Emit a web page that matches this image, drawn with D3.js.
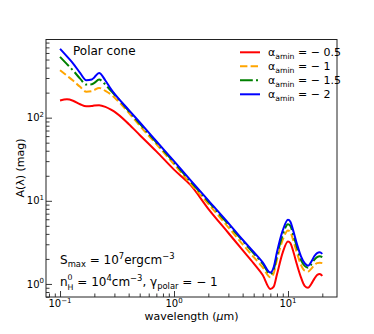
<!DOCTYPE html>
<html><head><meta charset="utf-8">
<script src="https://cdn.jsdelivr.net/npm/d3@7"></script>
<style>body{margin:0;background:#fff} text{font-family:"DejaVu Sans",sans-serif;fill:#000;white-space:pre}</style>
</head><body><svg id="c" width="374" height="334"></svg>
<script>
// ---- data ----
const wavelengths = [0.1,0.115,0.13,0.15,0.17,0.19,0.2,0.22,0.25,0.28,0.3,0.4,0.5,0.7,1,1.4,2,3,4,5,6,7,7.5,8,9,10,10.5,11,12,13,14,15,16,17,18,19,20];
const aminM05 = [161,166,160,145,137,138,140,141,135,125,118,84,62,39.3,23.7,15.4,8.0,4.1,2.55,1.77,1.28,0.87,0.93,1.3,2.4,3.23,3.1,2.6,1.7,1.2,0.95,0.90,1.0,1.15,1.28,1.32,1.25];
const aminM1  = [372,320,280,235,205,208,215,228,210,190,175,115,80,48,27.5,16,9.2,4.8,3.0,2.1,1.58,1.2,1.35,1.95,3.4,4.39,4.2,3.5,2.35,1.7,1.45,1.41,1.52,1.68,1.78,1.8,1.78];
const aminM15 = [538,440,370,295,250,252,262,287,250,210,190,121,85,50.5,29,17,9.8,5.2,3.3,2.33,1.75,1.32,1.5,2.2,3.9,5.24,5.0,4.1,2.75,1.95,1.65,1.57,1.72,1.95,2.1,2.15,2.1];
const aminM2  = [673,545,450,345,282,288,305,345,280,220,195,124,88,52,30,17.6,10.1,5.4,3.4,2.42,1.82,1.37,1.6,2.4,4.4,5.9,5.6,4.6,3.0,2.15,1.78,1.66,1.85,2.15,2.35,2.4,2.3];
const seriesNames = ["− 0.5","− 1","− 1.5","− 2"];
const xMajorTicks = [0.1,1,10];
const xTickExps = ["−1","0","1"];
const yMajorTicks = [1,10,100];
const yTickExps = ["0","1","2"];

const seriesValues = [aminM05, aminM1, aminM15, aminM2];
const colors = ["#ff0000","#ffa500","#008000","#0000ff"];
const dashes = [null,"7.4,3.2","12.8,3.2,2,3.2",null];

const svg = d3.select("#c");
const L=46,R=337,T=39.5,B=297;
const x = d3.scaleLog().domain([Math.pow(10,-1.123), Math.pow(10,1.43)]).range([L,R]);
const y = d3.scaleLog().domain([Math.pow(10,-0.157), Math.pow(10,2.94)]).range([B,T]);

// math text helper
function mathText(g, x0, yb, parts, size, anchor){
  const grp = g.append("g");
  let cx = 0;
  parts.forEach(p=>{
    const [t, mode] = p;
    if(mode==="bp"){
      const a = grp.append("text").attr("x",cx).attr("y",yb+size*0.3).style("font-size",(size*0.65)+"px").text(t[0]);
      const b = grp.append("text").attr("x",cx).attr("y",yb-size*0.48).style("font-size",(size*0.65)+"px").text(t[1]);
      cx += Math.max(a.node().getComputedTextLength(), b.node().getComputedTextLength());
    } else {
      const fs = mode ? size*0.7 : size;
      const dy = mode==="b" ? size*0.25 : (mode==="p" ? -size*0.42 : 0);
      const e = grp.append("text").attr("x",cx).attr("y",yb+dy).style("font-size",fs+"px").text(t);
      if(p[2]) e.style("font-style","italic");
      cx += e.node().getComputedTextLength();
    }
  });
  let sx = x0;
  if(anchor==="end") sx = x0 - cx;
  else if(anchor==="middle") sx = x0 - cx/2;
  grp.attr("transform",`translate(${sx},0)`);
  return cx;
}

// clip
svg.append("clipPath").attr("id","clip").append("rect").attr("x",L).attr("y",T).attr("width",R-L).attr("height",B-T);

// lines
const line = d3.line().x(d=>x(d[0])).y(d=>y(d[1])).curve(d3.curveMonotoneX);
seriesValues.forEach((vals,i)=>{
  const pts = wavelengths.map((w,j)=>[w,vals[j]]);
  svg.append("path").attr("d",line(pts)).attr("fill","none").attr("stroke",colors[i])
    .attr("stroke-width",2).attr("stroke-dasharray",dashes[i]).attr("clip-path","url(#clip)");
});

// axes ticks (inward)
const xMinor = x.ticks().filter(v=>!xMajorTicks.some(m=>Math.abs(m-v)<1e-9));
const yMinor = y.ticks().filter(v=>!yMajorTicks.some(m=>Math.abs(m-v)<1e-9));
const gx = svg.append("g").attr("transform",`translate(0,${B})`);
gx.call(d3.axisBottom(x).tickValues(xMajorTicks).tickSizeInner(-6).tickSizeOuter(0).tickFormat(""));
gx.call(g=>g.select(".domain").remove());
const gx2 = svg.append("g").attr("transform",`translate(0,${B})`);
gx2.call(d3.axisBottom(x).tickValues(xMinor).tickSizeInner(-3.5).tickSizeOuter(0).tickFormat(""));
gx2.call(g=>g.select(".domain").remove());
const gy = svg.append("g").attr("transform",`translate(${L},0)`);
gy.call(d3.axisLeft(y).tickValues(yMajorTicks).tickSizeInner(-6).tickSizeOuter(0).tickFormat(""));
gy.call(g=>g.select(".domain").remove());
const gy2 = svg.append("g").attr("transform",`translate(${L},0)`);
gy2.call(d3.axisLeft(y).tickValues(yMinor).tickSizeInner(-3.5).tickSizeOuter(0).tickFormat(""));
gy2.call(g=>g.select(".domain").remove());
svg.selectAll(".tick line").attr("stroke","#222").attr("stroke-width",0.9);

// tick labels
xMajorTicks.forEach((v,i)=>{
  mathText(svg, x(v), 307, [["10",""],[xTickExps[i],"p"]], 10, "middle");
});
yMajorTicks.forEach((v,i)=>{
  mathText(svg, 44, y(v)+3.6, [["10",""],[yTickExps[i],"p"]], 10, "end");
});

// frame
svg.append("rect").attr("x",L).attr("y",T).attr("width",R-L).attr("height",B-T)
  .attr("fill","none").attr("stroke","#222").attr("stroke-width",1);

// axis labels
mathText(svg, (L+R)/2, 320, [["wavelength (",""],["μ","",true],["m)",""]], 11, "middle");
svg.append("text").attr("transform","translate(24,168) rotate(-90)").attr("text-anchor","middle")
  .style("font-size","11px").text("A(λ) (mag)");

// title
svg.append("text").attr("x",73).attr("y",55).style("font-size","12px").text("Polar cone");

// legend
const legY = [52.3,66.3,80.3,94.3];
seriesNames.forEach((n,i)=>{
  svg.append("line").attr("x1",240).attr("x2",260).attr("y1",legY[i]).attr("y2",legY[i])
    .attr("stroke",colors[i]).attr("stroke-width",2).attr("stroke-dasharray",dashes[i]);
  mathText(svg, 268, legY[i]+4, [["α",""],["amin","b"],[" = "+n,""]], 11, "start");
});

// annotations
mathText(svg, 60, 264, [["S",""],["max","b"],[" = 10",""],["7","p"],["ergcm",""],["−3","p"]], 12, "start");
mathText(svg, 60, 286, [["n",""],[["H","0"],"bp"],[" = 10",""],["4","p"],["cm",""],["−3","p"],[", γ",""],["polar","b"],[" = − 1",""]], 12, "start");
</script></body></html>
